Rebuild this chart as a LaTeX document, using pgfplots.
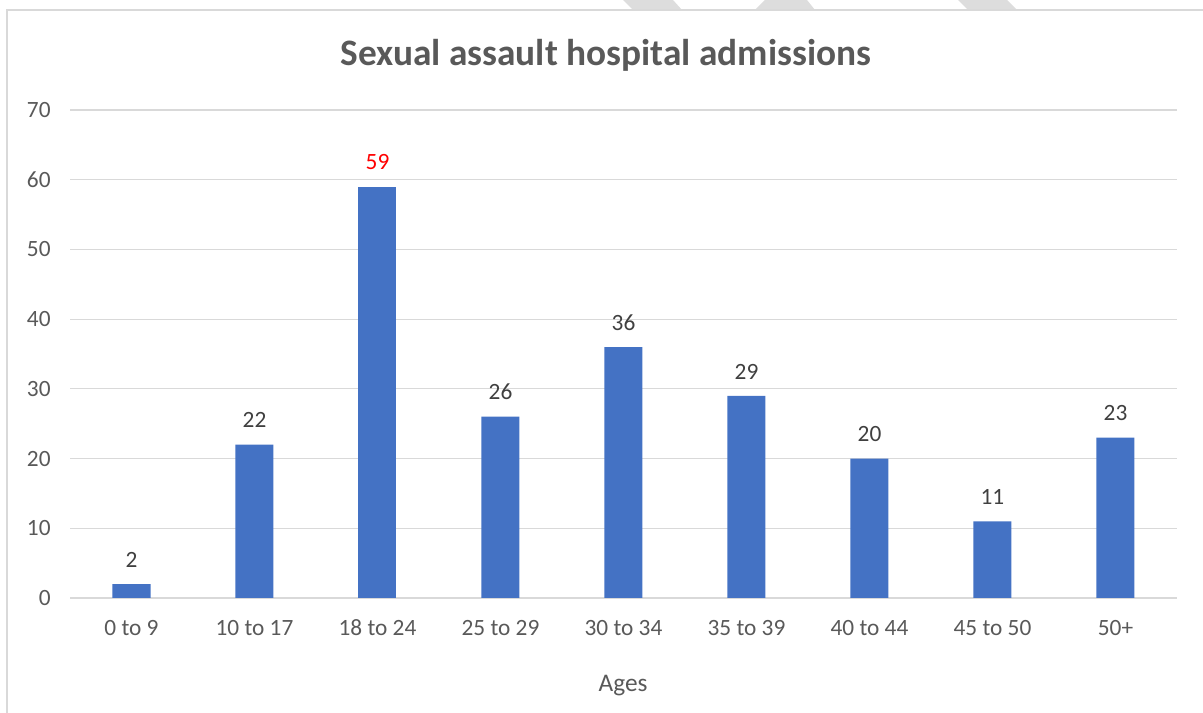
\documentclass[border=0pt]{standalone}
\usepackage{pgfplots}
\pgfplotsset{compat=1.18}
\usepackage{fontspec}
\setmainfont{Carlito}
\definecolor{barblue}{HTML}{4472C4}
\definecolor{gridgray}{HTML}{D9D9D9}
\definecolor{markgray}{HTML}{DDDDDD}
\definecolor{txtgray}{HTML}{595959}
\definecolor{lblgray}{HTML}{404040}
\begin{document}
\begin{tikzpicture}[x=0.75pt,y=0.75pt]
\useasboundingbox (0,0) rectangle (1203,713);
\fill[markgray] (623,713) -- (673,713) -- (682,703) -- (633,703) -- cycle;
\fill[markgray] (755,703) -- (765,713) -- (807,713) -- (815,703) -- cycle;
\fill[markgray] (958,713) -- (1007,713) -- (1017,703) -- (968,703) -- cycle;
\draw[gridgray,line width=1.2pt] (7,-10) -- (7,703) -- (1215,703);
\begin{axis}[
  at={(52.5pt,86.25pt)}, anchor=south west,
  scale only axis, width=830.25pt, height=366pt,
  xmin=-0.5, xmax=8.5, ymin=0, ymax=70,
  ytick={0,10,...,70},
  xtick={0,...,8},
  xticklabels={0 to 9,10 to 17,18 to 24,25 to 29,30 to 34,35 to 39,40 to 44,45 to 50,50+},
  axis line style={draw=none},
  ymajorgrids, grid style={gridgray, line width=0.9pt},
  major tick length=0pt,
  /pgf/number format/assume math mode=true,
  tick label style={font=\fontsize{17.5}{20}\selectfont, text=txtgray},
  yticklabel style={xshift=-11pt},
  xticklabel style={yshift=-13pt},
  xlabel={Ages},
  xlabel style={at={(axis description cs:0.4996,-0.18)}, anchor=center, font=\fontsize{19}{22}\selectfont, text=txtgray},
  title={Sexual assault hospital admissions},
  title style={at={(axis description cs:0.484,1.095)}, anchor=center, font=\bfseries\fontsize{28}{33}\selectfont, text=txtgray},
  ybar, bar width=28.5pt, bar shift=0pt,
  nodes near coords,
  nodes near coords style={font=\fontsize{17.5}{20}\selectfont, yshift=9pt},
]
\addplot[fill=barblue, draw=none, nodes near coords style={text=lblgray}] coordinates {(0,2) (1,22) (3,26) (4,36) (5,29) (6,20) (7,11) (8,23)};
\addplot[fill=barblue, draw=none, nodes near coords style={text=red}] coordinates {(2,59)};
\end{axis}
\end{tikzpicture}
\end{document}
